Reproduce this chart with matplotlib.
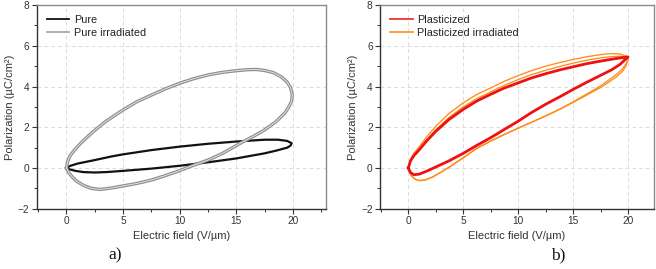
import matplotlib
matplotlib.use("Agg")
import matplotlib.pyplot as plt
from matplotlib.ticker import MultipleLocator
from matplotlib.lines import Line2D

plt.rcParams['font.family'] = ['Liberation Sans', 'DejaVu Sans']

# ---------------- data ----------------
# Panel a) Pure (one closed loop: upper branch 0->20, lower branch 20->0)
pure_x = [0, 0.3, 1, 2.5, 4, 5, 7.5, 10, 12.5, 15, 17.5, 18.7, 19.5, 19.9,
          19.8, 19.5, 18.5, 17.5, 15, 12.5, 10, 7.5, 5, 3.5, 2.5, 1.5, 0.8, 0.3, 0]
pure_y = [0, 0.1, 0.22, 0.39, 0.57, 0.67, 0.88, 1.05, 1.19, 1.3, 1.39, 1.39, 1.33, 1.22,
          1.1, 1.0, 0.85, 0.72, 0.47, 0.28, 0.11, -0.03, -0.14, -0.2, -0.22, -0.2, -0.14, -0.07, 0]

# Panel a) Pure irradiated
pirr_x = [0, 0.1, 0.3, 0.7, 1.2, 1.8, 2.5, 3.5, 5, 6.2, 7.5, 8.7, 10, 11.2, 12.5, 13.8, 15, 16, 16.8,
          17.6, 18.3, 19, 19.5, 19.8, 19.95,
          19.9, 19.7, 19.3, 18.5, 17.5, 16.5, 15.6, 15, 13.8, 12.5, 11.3, 10, 8.7, 7.5, 6.2,
          5, 4, 3, 2.2, 1.5, 0.9, 0.5, 0.2, 0]
pirr_y = [0, 0.3, 0.58, 0.88, 1.18, 1.5, 1.85, 2.3, 2.85, 3.25, 3.58, 3.88, 4.16, 4.38, 4.57, 4.7, 4.78, 4.83, 4.84,
          4.78, 4.68, 4.47, 4.22, 3.95, 3.6,
          3.3, 3.05, 2.7, 2.27, 1.87, 1.55, 1.29, 1.1, 0.72, 0.39, 0.15, -0.13, -0.38, -0.59, -0.76,
          -0.88, -0.98, -1.05, -1.0, -0.85, -0.65, -0.43, -0.22, 0]

# Panel b) Plasticized
plas_x = [0, 0.2, 0.5, 1, 1.7, 2.5, 3.7, 5, 6.2, 7.5, 8.7, 10, 11.2, 12.5, 13.8, 15, 16.2, 17.5, 18.7, 20,
          19.3, 18.5, 17.5, 16.2, 15, 13.8, 12.5, 11.2, 10, 8.7, 7.5, 6.2, 5, 3.7, 2.5, 1.7, 1, 0.5, 0.2, 0]
plas_y = [0, 0.35, 0.6, 0.9, 1.35, 1.8, 2.38, 2.88, 3.28, 3.62, 3.92, 4.18, 4.42, 4.63, 4.82, 4.97, 5.12, 5.25, 5.36, 5.46,
          5.1, 4.82, 4.55, 4.2, 3.86, 3.5, 3.13, 2.72, 2.3, 1.88, 1.49, 1.1, 0.72, 0.35, 0.05, -0.15, -0.3, -0.33, -0.22, 0]

# Panel b) Plasticized irradiated: two recorded cycles
pli_up1_x = [0, 0.2, 0.5, 1, 1.7, 2.5, 3.7, 5, 6.2, 7.5, 8.7, 10, 11.2, 12.5, 13.8, 15, 16.2, 17.5, 18.5, 19.3, 19.8, 20]
pli_up1_y = [0, 0.42, 0.72, 1.05, 1.55, 2.05, 2.68, 3.2, 3.6, 3.93, 4.25, 4.54, 4.78, 5.0, 5.18, 5.33, 5.46, 5.57, 5.62, 5.6, 5.5, 5.4]
pli_lo1_x = [20, 19.8, 19.5, 19, 18.2, 17.5, 16.2, 15, 13.8, 12.5, 11.2, 10, 8.7, 7.5, 6.2, 5, 4, 3, 2.2, 1.5, 1, 0.6, 0.3, 0.1, 0]
pli_lo1_y = [5.3, 5.0, 4.75, 4.5, 4.2, 3.95, 3.57, 3.22, 2.88, 2.55, 2.24, 1.95, 1.63, 1.32, 0.95, 0.5, 0.13, -0.2, -0.45, -0.6, -0.62, -0.55, -0.4, -0.2, 0]
pli_up2_x = [0, 0.2, 0.5, 1, 1.7, 2.5, 3.7, 5, 6.2, 7.5, 8.7, 10, 11.2, 12.5, 13.8, 15, 16.2, 17.5, 18.5, 19.3, 20]
pli_up2_y = [0, 0.36, 0.63, 0.93, 1.4, 1.88, 2.48, 3.0, 3.4, 3.74, 4.05, 4.34, 4.58, 4.8, 4.99, 5.15, 5.29, 5.41, 5.47, 5.49, 5.42]
pli_lo2_x = [20, 19.8, 19.5, 19, 18.2, 17.5, 16.2, 15, 13.8, 12.5, 11.2, 10, 8.7, 7.5, 6.2, 5, 4, 3, 2.2, 1.5, 1, 0.6, 0.3, 0.1, 0]
pli_lo2_y = [5.35, 5.1, 4.88, 4.62, 4.3, 4.03, 3.62, 3.25, 2.9, 2.56, 2.25, 1.96, 1.64, 1.33, 0.96, 0.51, 0.14, -0.19, -0.44, -0.59, -0.61, -0.54, -0.39, -0.19, 0]

xticks = [0, 5, 10, 15, 20]
yticks = [-2, 0, 2, 4, 6, 8]

# ---------------- figure ----------------
fig = plt.figure(figsize=(6.56, 2.69), dpi=100)
axa = fig.add_axes([0.0564, 0.224, 0.440, 0.757])
axb = fig.add_axes([0.5797, 0.224, 0.417, 0.757])


def style(ax, xlim):
    ax.set_xlim(*xlim)
    ax.set_ylim(-2, 8)
    ax.set_xticks(xticks)
    ax.set_yticks(yticks)
    ax.xaxis.set_minor_locator(MultipleLocator(2.5))
    ax.yaxis.set_minor_locator(MultipleLocator(1))
    ax.grid(True, which='major', color='#dcdcdc', linestyle=(0, (4, 3)), linewidth=0.7)
    ax.set_axisbelow(True)
    for s in ['top', 'right']:
        ax.spines[s].set_color('#8a8a8a')
        ax.spines[s].set_linewidth(1.0)
    for s in ['left', 'bottom']:
        ax.spines[s].set_color('#333333')
        ax.spines[s].set_linewidth(1.0)
    ax.tick_params(which='major', direction='out', length=3.5, width=0.8, color='#333333',
                   labelsize=7.3, labelcolor='#333333', pad=2)
    ax.tick_params(which='minor', direction='out', length=2, width=0.7, color='#333333')
    ax.set_xlabel('Electric field (V/µm)', fontsize=8, color='#333333', labelpad=3)
    ax.set_ylabel('Polarization (µC/cm²)', fontsize=8, color='#333333', labelpad=2)


style(axa, (-2.6, 22.9))
style(axb, (-2.55, 22.35))

# panel a
axa.plot(pure_x, pure_y, color='#111111', lw=1.6, solid_joinstyle='round')
axa.plot(pirr_x, pirr_y, color='#8e8e8e', lw=2.4, solid_joinstyle='round')
axa.plot(pirr_x, pirr_y, color='#e2e2e2', lw=0.7, solid_joinstyle='round')

# panel b
axb.plot(pli_up1_x + pli_lo1_x, pli_up1_y + pli_lo1_y, color='#ff8c1a', lw=0.95, zorder=2,
         solid_joinstyle='round')
axb.plot(pli_up2_x + pli_lo2_x, pli_up2_y + pli_lo2_y, color='#ff8c1a', lw=0.95, zorder=2,
         solid_joinstyle='round')
axb.plot(plas_x, plas_y, color='#ee1111', lw=2.0, zorder=3, solid_joinstyle='round')

leg_kw = dict(loc='upper left', frameon=False, fontsize=7.8, handlelength=2.1,
              handletextpad=0.4, labelspacing=0.3, borderaxespad=0.5, labelcolor='#222222')
ha = [Line2D([], [], color='#111111', lw=1.3), Line2D([], [], color='#a8a8a8', lw=1.3)]
axa.legend(ha, ['Pure', 'Pure irradiated'], **leg_kw)
hb = [Line2D([], [], color='#ee3333', lw=1.3), Line2D([], [], color='#ff9933', lw=1.3)]
axb.legend(hb, ['Plasticized', 'Plasticized irradiated'], **leg_kw)

fig.text(115 / 656, 1 - 255 / 269, 'a)', family='Liberation Serif', fontsize=12.5,
         ha='center', va='center', color='#111111')
fig.text(558 / 656, 1 - 255 / 269, 'b)', family='Liberation Serif', fontsize=12.5,
         ha='center', va='center', color='#111111')

fig.savefig('out.png', dpi=100)
